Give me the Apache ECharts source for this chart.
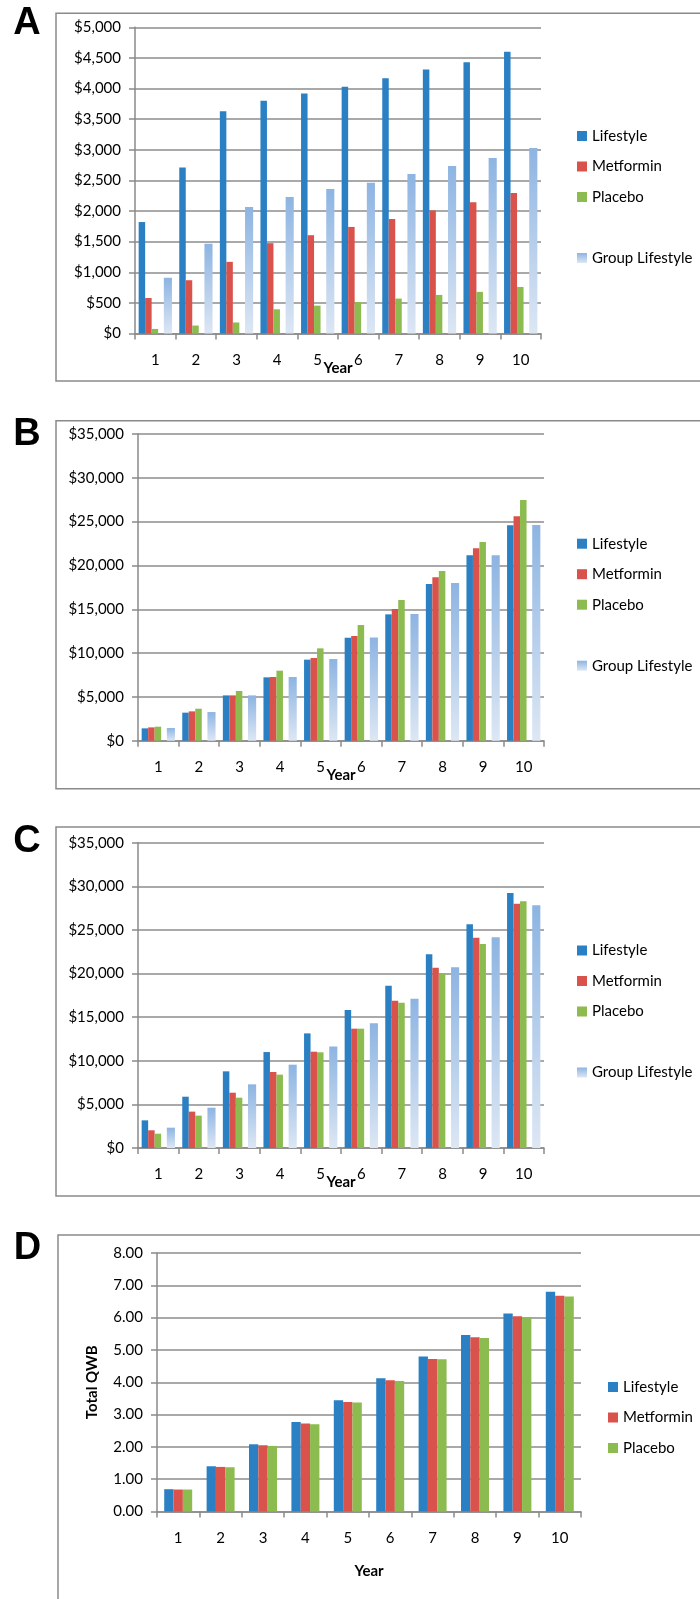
<!DOCTYPE html>
<html><head><meta charset="utf-8">
<script src="https://cdn.jsdelivr.net/npm/echarts@6/dist/echarts.min.js"></script>
<style>html,body{margin:0;padding:0;background:#fff}#c{width:700px;height:1599px}</style>
</head><body><div id="c"></div>
<script>
// ---- data ----
const years = ['1','2','3','4','5','6','7','8','9','10'];
const seriesNames = ['Lifestyle','Metformin','Placebo','Group Lifestyle'];

const aLifestyle = [1820, 2710, 3630, 3800, 3920, 4030, 4170, 4310, 4430, 4600];
const aMetformin = [580, 870, 1170, 1475, 1605, 1740, 1870, 2010, 2145, 2295];
const aPlacebo   = [75, 130, 180, 395, 455, 515, 570, 630, 680, 760];
const aGroup     = [910, 1465, 2065, 2230, 2360, 2460, 2605, 2735, 2865, 3030];

const bLifestyle = [1410, 3200, 5170, 7230, 9250, 11750, 14420, 17880, 21150, 24580];
const bMetformin = [1520, 3350, 5170, 7270, 9440, 11950, 15030, 18640, 21950, 25600];
const bPlacebo   = [1600, 3650, 5670, 7990, 10540, 13200, 16050, 19360, 22670, 27470];
const bGroup     = [1450, 3270, 5170, 7270, 9320, 11790, 14460, 17990, 21150, 24610];

const cLifestyle = [3170, 5880, 8790, 11000, 13140, 15820, 18610, 22200, 25640, 29230];
const cMetformin = [2030, 4170, 6340, 8710, 11040, 13680, 16890, 20670, 24110, 28010];
const cPlacebo   = [1640, 3710, 5770, 8410, 10970, 13680, 16660, 20060, 23380, 28280];
const cGroup     = [2330, 4620, 7300, 9550, 11650, 14290, 17120, 20710, 24150, 27820];

const dLifestyle = [0.69, 1.40, 2.08, 2.77, 3.44, 4.12, 4.80, 5.46, 6.13, 6.80];
const dMetformin = [0.68, 1.38, 2.05, 2.72, 3.39, 4.06, 4.72, 5.39, 6.04, 6.68];
const dPlacebo   = [0.68, 1.37, 2.03, 2.70, 3.37, 4.04, 4.71, 5.37, 6.01, 6.65];

// ---- styling ----
const FONT = 'Lato';
const COLORS = ['#2A80C3', '#D9534C', '#8CBB4F'];
const GROUP_FILL = {type:'linear', x:0, y:0, x2:0, y2:1,
  colorStops:[{offset:0, color:'#8DB4E2'}, {offset:1, color:'#DDE7F4'}]};
const GRAY = '#8A8A8A';

const panels = [
  {letter:'A', lx:27, ly:24, data:[aLifestyle,aMetformin,aPlacebo,aGroup], max:5000, interval:500, money:true,
   grid:{left:135, right:159, top:27.3, height:306.2}, frame:{x:56, y:13.3, h:367.7}, legX:577, legY:136},
  {letter:'B', lx:27, ly:434.5, data:[bLifestyle,bMetformin,bPlacebo,bGroup], max:35000, interval:5000, money:true,
   grid:{left:138, right:156, top:434, height:306.7}, frame:{x:56, y:420.7, h:368}, legX:577, legY:543.7},
  {letter:'C', lx:27, ly:841.5, data:[cLifestyle,cMetformin,cPlacebo,cGroup], max:35000, interval:5000, money:true,
   grid:{left:138, right:156, top:842.7, height:305.3}, frame:{x:56, y:827, h:369}, legX:577, legY:950.5},
  {letter:'D', lx:27.5, ly:1248.5, data:[dLifestyle,dMetformin,dPlacebo], max:8, interval:1, money:false,
   grid:{left:157, right:119, top:1253, height:258.5}, frame:{x:58, y:1235, h:420}, legX:608, legY:1387}
];

const option = {
  animation:false,
  backgroundColor:'#fff',
  textStyle:{fontFamily:FONT},
  grid:[], xAxis:[], yAxis:[], series:[], legend:[], graphic:[]
};

panels.forEach((p, i) => {
  option.grid.push(Object.assign({containLabel:false}, p.grid));
  option.xAxis.push({
    type:'category', gridIndex:i, data:years, boundaryGap:true,
    axisLine:{show:true, lineStyle:{color:GRAY, width:1.5}},
    axisTick:{show:true, interval:0, length:6, inside:false, lineStyle:{color:GRAY, width:1.5}},
    axisLabel:{interval:0, fontSize:15, color:'#000', margin:19, fontFamily:FONT},
    splitLine:{show:false},
    name:'Year', nameLocation:'middle', nameGap: i===3 ? 52 : 27, nameMoveOverlap:false,
    nameTextStyle:{fontSize:15, fontWeight:'bold', color:'#000', fontFamily:FONT}
  });
  const y = {
    type:'value', gridIndex:i, min:0, max:p.max, interval:p.interval,
    axisLine:{show:true, lineStyle:{color:GRAY, width:1.5}},
    axisTick:{show:true, length:6, lineStyle:{color:GRAY, width:1.5}},
    axisLabel:{fontSize:15, color:'#000', margin:14, fontFamily:FONT,
      formatter: p.money ? (v => '$' + v.toLocaleString('en-US')) : (v => v.toFixed(2))},
    splitLine:{show:true, lineStyle:{color:'#8C8C8C', width:1.5}}
  };
  if (i === 3) {
    Object.assign(y, {name:'Total QWB', nameLocation:'middle', nameGap:57, nameMoveOverlap:false,
      nameTextStyle:{fontSize:15, fontWeight:'bold', color:'#000', fontFamily:FONT}});
  }
  option.yAxis.push(y);

  const is4 = p.data.length === 4;
  const widths = is4 ? ['16%','16%','16%'] : ['22%','22%','22%'];
  for (let k = 0; k < 3; k++) {
    option.series.push({
      type:'bar', name:seriesNames[k], xAxisIndex:i, yAxisIndex:i, data:p.data[k],
      barWidth:widths[k], barGap:'0%', itemStyle:{color:COLORS[k]}
    });
  }
  if (is4) {
    option.series.push({
      type:'bar', name:'gap' + p.letter, xAxisIndex:i, yAxisIndex:i,
      data:years.map(() => null), barWidth:'14%', barGap:'0%', itemStyle:{color:'transparent'}
    });
    option.series.push({
      type:'bar', name:seriesNames[3], xAxisIndex:i, yAxisIndex:i, data:p.data[3],
      barWidth:'20%', barGap:'0%', itemStyle:{color:GROUP_FILL}
    });
  }
  const legBase = {orient:'vertical', left:p.legX, itemWidth:10, itemHeight:10, itemGap:12.5, padding:0,
    selectedMode:false, icon:'rect',
    textStyle:{fontSize:15, color:'#000', fontFamily:FONT, lineHeight:18}};
  option.legend.push(Object.assign({}, legBase, {top:p.legY - 9, data:seriesNames.slice(0,3)}));
  if (is4) option.legend.push(Object.assign({}, legBase, {top:p.legY + 122 - 9, data:[seriesNames[3]]}));

  option.graphic.push({type:'rect', silent:true, z:-1,
    shape:{x:p.frame.x, y:p.frame.y, width:760, height:p.frame.h},
    style:{fill:'none', stroke:GRAY, lineWidth:1.5}});
  option.graphic.push({type:'text', silent:true, x:p.lx, y:p.ly,
    style:{text:p.letter, font:'bold 38px "Liberation Sans", Arial, sans-serif', fill:'#000',
      textAlign:'center', textVerticalAlign:'middle'}});
});

const chart = echarts.init(document.getElementById('c'), null, {renderer:'canvas'});
chart.setOption(option);
</script></body></html>
